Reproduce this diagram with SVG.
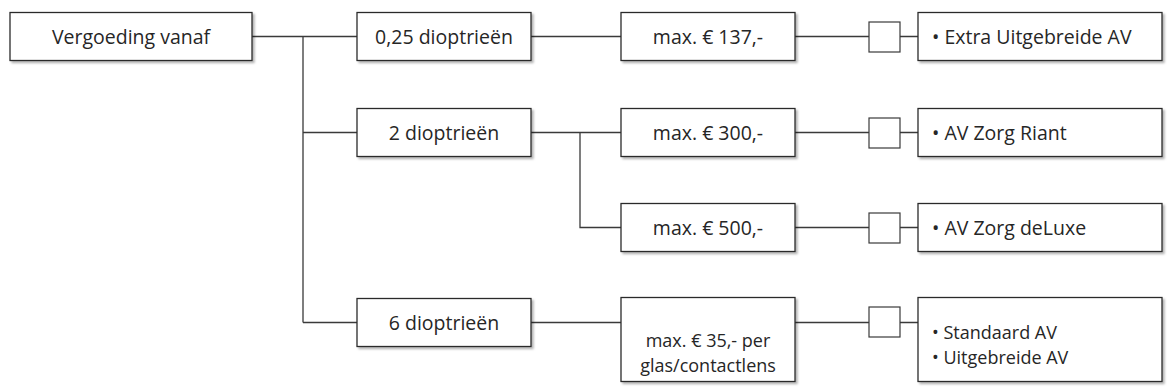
<svg xmlns="http://www.w3.org/2000/svg" width="1170" height="392" viewBox="0 0 1170 392">
<style>
.box{fill:#fff;stroke:#2b2b2b;stroke-width:1.3;filter:url(#sh)}
.sq{fill:#fff;stroke:#3a3a3a;stroke-width:1.2}
.ln{fill:none;stroke:#3a3a3a;stroke-width:1.3}
text{font-family:"Open Sans","Noto Sans","Liberation Sans",sans-serif;font-size:19.5px;fill:#262626}
.c{text-anchor:middle}
.m{font-size:18px}
</style>
<defs>
<filter id="sh" x="-10%" y="-20%" width="130%" height="160%">
<feDropShadow dx="2" dy="2" stdDeviation="1.3" flood-color="#000" flood-opacity="0.3"/>
</filter>
</defs>
<rect width="1170" height="392" fill="#fff"/>
<g id="connectors">
<path class="ln" d="M252 36.5H303M303 36.5V322.5M303 36.5H357M303 132.5H357M303 322.5H357"/>
<path class="ln" d="M531 36.5H621M531 132.5H621M580 132.5V227.5H621M531 322.5H621"/>
<path class="ln" d="M795 36.5H869M900 36.5H918M795 132.5H869M900 132.5H918M795 227.5H869M900 227.5H918M795 322.5H869M900 322.5H918"/>
</g>
<g id="n-root"><rect class="box" x="10" y="12.5" width="242" height="48"/><text class="c" x="131" y="43.5">Vergoeding vanaf</text></g>
<g id="n-025"><rect class="box" x="357" y="12.5" width="174" height="48"/><text class="c" x="444" y="43.5">0,25 dioptrieën</text></g>
<g id="n-2"><rect class="box" x="357" y="108.5" width="174" height="48"/><text class="c" x="444" y="139.5">2 dioptrieën</text></g>
<g id="n-6"><rect class="box" x="357" y="298.5" width="174" height="48"/><text class="c" x="444" y="329.5">6 dioptrieën</text></g>
<g id="n-137"><rect class="box" x="621" y="12.5" width="174" height="48"/><text class="c" x="708" y="43.5">max. € 137,-</text></g>
<g id="n-300"><rect class="box" x="621" y="108.5" width="174" height="48"/><text class="c" x="708" y="139.5">max. € 300,-</text></g>
<g id="n-500"><rect class="box" x="621" y="203.5" width="174" height="48"/><text class="c" x="708" y="234.5">max. € 500,-</text></g>
<g id="n-35"><rect class="box" x="621" y="297.5" width="174" height="84"/><text class="c m" x="708" y="347">max. € 35,- per</text><text class="c m" x="708" y="372">glas/contactlens</text></g>
<g id="sq1"><rect class="sq" x="869" y="22" width="31" height="30"/></g>
<g id="sq2"><rect class="sq" x="869" y="118" width="31" height="30"/></g>
<g id="sq3"><rect class="sq" x="869" y="213" width="31" height="30"/></g>
<g id="sq4"><rect class="sq" x="869" y="307" width="31" height="30"/></g>
<g id="r1"><rect class="box" x="918" y="12.5" width="244" height="48"/><text x="932" y="43.5">• Extra Uitgebreide AV</text></g>
<g id="r2"><rect class="box" x="918" y="108.5" width="244" height="48"/><text x="932" y="139.5">• AV Zorg Riant</text></g>
<g id="r3"><rect class="box" x="918" y="203.5" width="244" height="48"/><text x="932" y="234.5">• AV Zorg deLuxe</text></g>
<g id="r4"><rect class="box" x="918" y="297.5" width="244" height="84"/><text class="m" x="932" y="339">• Standaard AV</text><text class="m" x="932" y="364">• Uitgebreide AV</text></g>
</svg>
